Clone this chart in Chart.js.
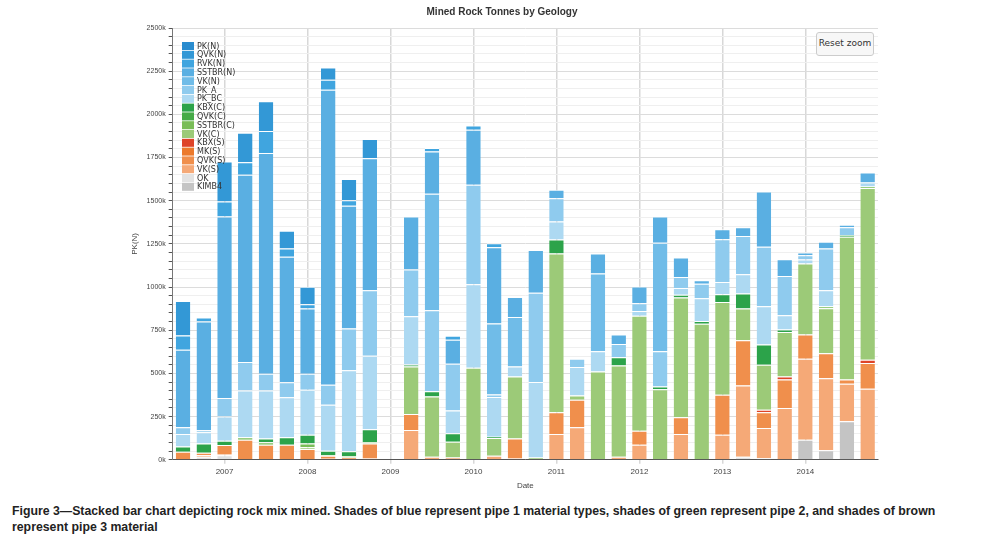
<!DOCTYPE html>
<html>
<head>
<meta charset="utf-8">
<script src="https://cdn.jsdelivr.net/npm/chart.js@4"></script>
<style>
  body { margin: 0; background: #fff; font-family: "Liberation Sans", Arial, sans-serif; }
  #wrap { position: relative; width: 982px; height: 495px; }
  #resetZoom {
    position: absolute; left: 816px; top: 32px; width: 56px; height: 22px;
    border: 1px solid #ccc; border-radius: 3px; background: #f7f7f7;
    font: 9px "DejaVu Sans", sans-serif; color: #333; line-height: 20px; text-align: center;
  }
  #caption { position: absolute; left: 12px; top: 503px; width: 960px; font: bold 12.3px "Liberation Sans", Arial, sans-serif; color: #222; line-height: 16px; }
</style>
</head>
<body>
<div id="wrap">
  <canvas id="chart" width="982" height="495"></canvas>
  <div id="resetZoom">Reset zoom</div>
</div>
<div id="caption">Figure 3—Stacked bar chart depicting rock mix mined. Shades of blue represent pipe 1 material types, shades of green represent pipe 2, and shades of brown represent pipe 3 material</div>
<script>
// quarters from 2006 Q3 to 2014 Q4 (values in k tonnes)
const quarters = [];
for (let y = 2006; y <= 2014; y++) {
  for (let q = 1; q <= 4; q++) {
    if (y === 2006 && q < 3) continue;
    quarters.push(y + " Q" + q);
  }
}
const yTicks = [0, 250, 500, 750, 1000, 1250, 1500, 1750, 2000, 2250, 2500];

function sparse(map) {
  const a = new Array(34).fill(null);
  for (const k in map) a[k] = map[k];
  return a;
}

const pkN = sparse({});
const qvkN = sparse({0:200, 2:232, 3:170, 4:173, 5:103, 6:101, 7:71, 8:124, 9:112});
const rvkN = sparse({0:83, 1:23, 2:87, 3:72, 4:126, 5:48, 6:25, 7:58, 8:31, 12:20, 13:23, 14:24, 15:23});
const sstbrN = sparse({0:449, 1:630, 2:1050, 3:1085, 4:1279, 5:726, 6:378, 7:1708, 8:711, 9:765, 11:306, 12:245, 13:139, 14:319, 15:442, 16:116, 17:248, 18:48, 20:116, 21:54, 22:97, 23:151, 24:112, 25:19, 26:58, 27:50, 28:320, 29:97, 30:15, 31:39, 32:14, 33:57});
const vkN = sparse({12:674, 15:411, 16:287, 20:449, 23:628});
const pkA = sparse({0:39, 1:12, 2:108, 3:165, 4:97, 5:87, 6:93, 7:116, 8:242, 9:378, 11:271, 12:469, 13:271, 14:575, 15:15, 17:517, 18:136, 19:48, 21:77, 22:46, 23:205, 24:64, 25:85, 26:248, 27:221, 28:345, 29:227, 30:25, 31:242, 32:45});
const pkBC = sparse({0:72, 1:64, 2:140, 3:271, 4:277, 5:232, 6:260, 7:267, 8:469, 9:426, 11:279, 13:132, 14:484, 15:229, 16:58, 17:436, 18:103, 19:165, 20:118, 22:27, 24:39, 25:132, 26:70, 27:112, 28:221, 29:83, 30:23, 31:93, 33:23});
const kbxC = sparse({0:31, 1:54, 2:25, 4:23, 5:43, 6:50, 7:25, 8:29, 9:74, 11:12, 12:31, 13:48, 15:8, 18:81, 21:48, 23:15, 24:17, 25:15, 26:45, 27:87, 28:118, 29:14, 32:10});
const qvkC = sparse({});
const sstbrC = sparse({3:14, 4:14, 6:23, 7:4, 8:6, 9:8, 31:12, 33:10});
const vkC = sparse({6:10, 11:275, 12:349, 13:91, 14:533, 15:103, 16:358, 17:14, 18:920, 19:25, 20:511, 21:529, 22:666, 23:409, 24:693, 25:788, 26:537, 27:184, 28:260, 29:258, 30:411, 31:260, 32:827, 33:994});
const kbxS = sparse({28:15, 29:17, 33:19});
const mkS = sparse({});
const qvkS = sparse({0:46, 1:14, 2:52, 3:116, 4:87, 5:87, 6:62, 7:17, 8:14, 9:87, 11:93, 16:116, 18:126, 19:159, 22:81, 24:97, 26:232, 27:262, 28:91, 29:165, 30:141, 31:145, 32:25, 33:149});
const vkS = sparse({1:10, 2:6, 7:6, 9:8, 11:172, 12:17, 13:14, 15:23, 16:8, 18:149, 19:188, 21:17, 22:87, 24:149, 26:145, 27:413, 28:174, 29:300, 30:469, 31:416, 32:217, 33:411});
const ok = sparse({1:17, 2:27, 27:17, 28:10});
const kimb4 = sparse({30:116, 31:56, 32:223});

// legend order, top of stack first
const series = [
  ["PK(N)", pkN, "#2a8ccf"],
  ["QVK(N)", qvkN, "#3398d6"],
  ["RVK(N)", rvkN, "#40a5df"],
  ["SSTBR(N)", sstbrN, "#5aafe2"],
  ["VK(N)", vkN, "#70bce8"],
  ["PK_A", pkA, "#8fcbee"],
  ["PK_BC", pkBC, "#add9f2"],
  ["KBX(C)", kbxC, "#2ca34a"],
  ["QVK(C)", qvkC, "#46ab48"],
  ["SSTBR(C)", sstbrC, "#79bd58"],
  ["VK(C)", vkC, "#9cca78"],
  ["KBX(S)", kbxS, "#de4428"],
  ["MK(S)", mkS, "#ec7a2c"],
  ["QVK(S)", qvkS, "#f08f4c"],
  ["VK(S)", vkS, "#f5a977"],
  ["OK", ok, "#e2e2e2"],
  ["KIMB4", kimb4, "#c4c4c4"],
];

const datasets = series.slice().reverse().map(([label, data, color]) => ({
  label, data, backgroundColor: color,
  borderColor: "#fff", borderWidth: { top: 1, bottom: 0, left: 0, right: 0 }, borderSkipped: false,
}));

const innerLegend = {
  id: "innerLegend",
  afterDraw(chart) {
    const ctx = chart.ctx;
    ctx.save();
    ctx.font = "8px 'DejaVu Sans', sans-serif";
    ctx.textBaseline = "middle";
    series.forEach(([label, , color], i) => {
      const y = 42 + i * 8.8;
      ctx.fillStyle = color;
      ctx.fillRect(182, y, 12, 8);
      ctx.fillStyle = "#333";
      ctx.fillText(label, 197, y + 4.5);
    });
    ctx.restore();
  },
};

new Chart(document.getElementById("chart"), {
  type: "bar",
  data: { labels: quarters, datasets },
  plugins: [innerLegend],
  options: {
    responsive: false,
    animation: false,
    layout: { padding: { left: 126, right: 104, top: 0, bottom: 0 } },
    datasets: { bar: { barPercentage: 0.7, categoryPercentage: 1 } },
    scales: {
      x: {
        stacked: true,
        grid: {
          offset: false,
          color: (c) => (c.index % 4 === 2 ? "#d8d8d8" : "rgba(0,0,0,0)"),
          lineWidth: 1.5,
          tickLength: 4,
        },
        border: { color: "#555", width: 1 },
        ticks: {
          autoSkip: false, maxRotation: 0, font: { size: 8 }, color: "#444",
          callback: (v, i) => (i % 4 === 2 ? quarters[i].slice(0, 4) : ""),
        },
        title: { display: true, text: "Date", font: { size: 8 }, color: "#444", padding: { top: 2 } },
      },
      y: {
        stacked: true,
        min: 0, max: 2500,
        ticks: {
          stepSize: 50, autoSkip: false, font: { size: 7 }, color: "#444",
          callback: (v) => (yTicks.includes(v) ? v + "k" : ""),
        },
        grid: {
          color: (c) => (c.tick && c.tick.value % 250 === 0 ? "#dcdcdc" : "#efefef"),
          tickColor: "#555", tickLength: 4,
        },
        border: { color: "#777" },
        title: { display: true, text: "PK(N)", font: { size: 8 }, color: "#444" },
      },
    },
    plugins: {
      legend: { display: false },
      tooltip: { enabled: false },
      title: { display: true, text: "Mined Rock Tonnes by Geology", font: { size: 10, weight: "bold" }, color: "#333", padding: { top: 6, bottom: 10 } },
    },
  },
});
</script>
</body>
</html>
